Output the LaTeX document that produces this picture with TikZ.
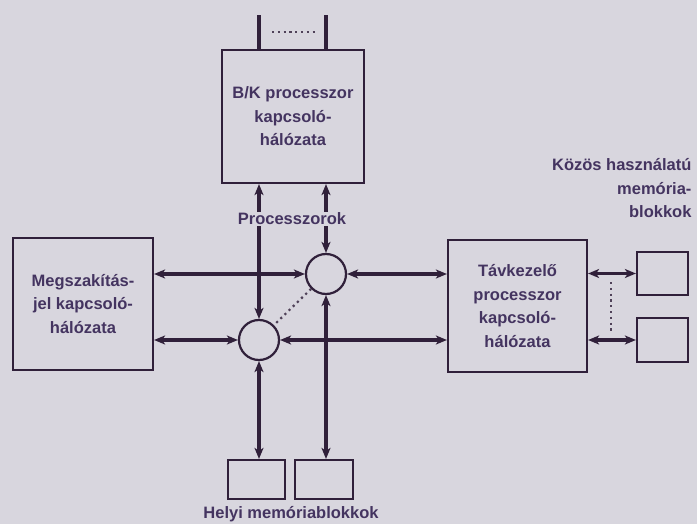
\documentclass[tikz,border=0pt]{standalone}
\usepackage{fontspec}
\setmainfont{Liberation Sans}
\usetikzlibrary{arrows.meta}
\definecolor{bgc}{RGB}{216,214,222}
\definecolor{ink}{RGB}{48,32,58}
\definecolor{txt}{RGB}{68,52,96}
\begin{document}
\begin{tikzpicture}[x=1pt,y=-1pt,
  lbl/.style={font=\fontsize{16.5}{23.5}\selectfont\bfseries, text=txt, align=center},
  blk/.style={draw=ink, line width=2.2pt, inner sep=0pt, fill=bgc, lbl},
  sw/.style={circle, draw=ink, line width=2.2pt, minimum size=40pt, inner sep=0pt, fill=bgc},
  conn/.style={draw=ink, line width=3.4pt, {Stealth[length=11pt,width=9pt,inset=3pt]}-{Stealth[length=11pt,width=9pt,inset=3pt]}},
  plainline/.style={draw=ink, line width=3.4pt},
  dots/.style={draw=ink!85, line width=2.2pt, dash pattern=on 2.2pt off 3.6pt}]
\fill[bgc] (0,0) rectangle (697,524);
\useasboundingbox (0,0) rectangle (697,524);
% blocks
\node[blk, minimum width=142pt, minimum height=133pt] (bk) at (293,116.5) {B/K processzor\\kapcsoló-\\hálózata};
\node[blk, minimum width=140pt, minimum height=132pt] (meg) at (83,304) {Megszakítás-\\jel kapcsoló-\\hálózata};
\node[blk, minimum width=139pt, minimum height=132pt] (tav) at (517.5,306) {Távkezelő\\processzor\\kapcsoló-\\hálózata};
\node[blk, minimum width=51pt, minimum height=43pt] (sm1) at (662.5,273.5) {};
\node[blk, minimum width=51pt, minimum height=44pt] (sm2) at (662.5,340) {};
\node[blk, minimum width=57pt, minimum height=39pt] (lm1) at (256.5,479.5) {};
\node[blk, minimum width=58pt, minimum height=39pt] (lm2) at (324,479.5) {};
% switches
\node[sw] (c1) at (326,274) {};
\node[sw] (c2) at (259,340) {};
% top free ends
\coordinate (t1) at (259,15);
\coordinate (t2) at (326,15);
\coordinate (d1) at (272,32);
\coordinate (d2) at (316,32);
\coordinate (v1) at (611,282);
\coordinate (v2) at (611,332);
\draw[plainline] (bk.north -| c2) -- (t1);
\draw[plainline] (bk.north -| c1) -- (t2);
\draw[dots] (d1) -- (d2);
% connectors
\draw[conn] (bk.south -| c2) -- (c2.north);
\draw[conn] (bk.south -| c1) -- (c1.north);
\draw[conn] (meg.east |- c1) -- (c1.west);
\draw[conn] (c1.east) -- (tav.west |- c1);
\draw[conn] (meg.east |- c2) -- (c2.west);
\draw[conn] (c2.east) -- (tav.west |- c2);
\draw[conn] (c2.south) -- (c2.south |- lm1.north);
\draw[conn] (c1.south) -- (c1.south |- lm2.north);
\draw[conn] (tav.east |- sm1) -- (sm1.west);
\draw[conn] (tav.east |- sm2) -- (sm2.west);
\draw[dots] (c1.225) -- (c2.45);
\draw[dots] (v1) -- (v2);
% labels
\node[lbl, fill=bgc, inner sep=1pt] (proc) at (292,219) {Processzorok};
\node[lbl, align=right, anchor=north east] (kozos) at (695,155) {Közös használatú\\memória-\\blokkok};
\node[lbl] (helyi) at (291,514) {Helyi memóriablokkok};
\end{tikzpicture}
\end{document}
